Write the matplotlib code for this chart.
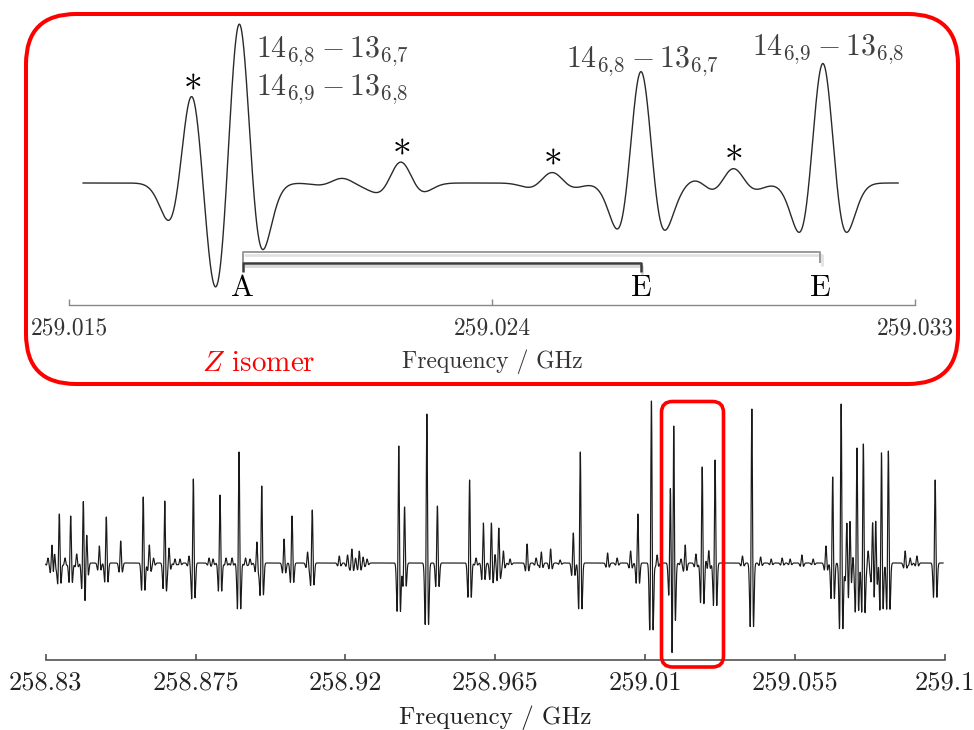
import numpy as np
import matplotlib
matplotlib.use('Agg')
import matplotlib.pyplot as plt
from matplotlib.patches import FancyBboxPatch
import matplotlib.transforms as mtransforms

plt.rcParams['mathtext.fontset'] = 'cm'
plt.rcParams['font.family'] = ['cmr10', 'DejaVu Serif']
plt.rcParams['axes.formatter.use_mathtext'] = True

# ---------------- data ----------------
# line centres (GHz) and peak intensities (arb. units)
line_freq = [
    258.8307, 258.83189, 258.83264, 258.83409, 258.8358, 258.83751, 258.83931, 258.8413, 258.84232, 258.8461,
    258.8482, 258.85253, 258.85929, 258.86112, 258.86238, 258.86575, 258.86704, 258.86884, 258.87034, 258.87305,
    258.87434, 258.87906, 258.88026, 258.88236, 258.88416, 258.88597, 258.88807, 258.89002, 258.89137, 258.89341,
    258.89489, 258.90159, 258.90399, 258.90865, 258.91006, 258.91817, 258.92066, 258.92195, 258.92307, 258.92418,
    258.92532, 258.92652, 258.93604, 258.93778, 258.94448, 258.94764, 258.95731, 258.95926, 258.96145, 258.96386,
    258.96497, 258.96608, 258.96746, 258.96947, 258.97458, 258.97729, 258.97885, 258.98164, 258.9845, 258.98846,
    258.99056, 258.99876, 259.00162, 259.00567, 259.00784, 259.01192, 259.01363,
    259.01762, 259.01862, 259.02081, 259.02206, 259.02528, 259.02717, 259.02836, 259.02913, 259.03104,
    259.03926, 259.04208, 259.04472, 259.04788, 259.05118, 259.05358, 259.0571, 259.06049, 259.06434, 259.06636,
    259.0689, 259.07062, 259.07155, 259.07236, 259.07365, 259.07557, 259.07701, 259.07837, 259.07927, 259.08017,
    259.08101, 259.08308, 259.08813, 259.08963, 259.09165, 259.09714]
line_int = [
    5, 20, 12, 49, 5, 47, 9, 62, 29, 17,
    46, 22, 66, 18, 5, 62, 15, 4, 4, 7,
    84, 5, 4, 68, 5, 5, 111, 5, 4, 21,
    77, 24, 47, 11, 53, 7, 8, 14, 5, 12,
    6, 4, 117, 56, 149, 57, 83, 5, 40, 40,
    9, 35, 12, 4, 19, 5, 11, 14, 3, 30,
    111, 10, 5, 12, 49, 162, 8,
    78, 139, 4, 18, 9, 96, 4, 13, 103,
    7, 154, 6, 4, 5, 4, 8, 4, 17, 86,
    159, 42, 45, 10, 115, 119, 12, 43, 45, 8,
    111, 112, 12, 5, 7, 83]
line_width_ghz = 0.00029

full_range = [258.8300, 259.0995]
zoom_range = [259.0153, 259.03264]

full_ticks = [258.83, 258.875, 258.92, 258.965, 259.01, 259.055, 259.1]
full_tick_labels = ['258.83', '258.875', '258.92', '258.965', '259.01', '259.055', '259.1']
zoom_ticks = [259.015, 259.024, 259.033]
zoom_tick_labels = ['259.015', '259.024', '259.033']

star_freq = [259.01762, 259.02206, 259.02528, 259.02913]
assign_freq = [259.01870, 259.02717, 259.03098]
assign_sym = ['A', 'E', 'E']
transitions = [r'$14_{6{,}8} - 13_{6{,}7}$', r'$14_{6{,}9} - 13_{6{,}8}$',
               r'$14_{6{,}8} - 13_{6{,}7}$', r'$14_{6{,}9} - 13_{6{,}8}$']

# ---------------- helpers ----------------
W, H = 974, 730


def spectrum(f):
    y = np.zeros_like(f)
    for c, a in zip(line_freq, line_int):
        u = (f - c) / line_width_ghz
        y += a * (1 - 0.95 * u * u) * np.exp(-0.5 * u * u)
    return y


def fx(px):
    return px / W


def fy(py):
    return 1 - py / H


fig = plt.figure(figsize=(W / 100, H / 100), dpi=100)

# ---------------- bottom (full) panel ----------------
axb_l, axb_r, axb_spine, axb_top = 45.7, 944.7, 660, 395
axb = fig.add_axes([fx(axb_l), fy(axb_spine), (axb_r - axb_l) / W, (axb_spine - axb_top) / H])
fb = np.linspace(full_range[0], full_range[1], 24000)
axb.plot(fb, spectrum(fb), color='#1a1a1a', lw=0.85, clip_on=False)
axb.set_xlim(full_ticks[0], full_ticks[-1])
base_b = 563
axb.set_ylim(-(axb_spine - base_b), (base_b - axb_top))
axb.set_yticks([])
for s in ['top', 'left', 'right']:
    axb.spines[s].set_visible(False)
axb.spines['bottom'].set_color('#444444')
axb.spines['bottom'].set_linewidth(1.1)
axb.set_xticks(full_ticks)
axb.set_xticklabels(full_tick_labels)
axb.tick_params(axis='x', direction='in', length=4, width=1.1, color='#444444',
                labelsize=19, labelcolor='#222222', pad=8)
axb.set_xlabel('Frequency / GHz', fontsize=18, color='#222222', labelpad=8)

# ---------------- top (zoom) panel ----------------
axt_l, axt_r, axt_spine, axt_top = 69, 915, 305, 12
scale_t = 1.16
axt = fig.add_axes([fx(axt_l), fy(axt_spine), (axt_r - axt_l) / W, (axt_spine - axt_top) / H])
ft = np.linspace(zoom_range[0], zoom_range[1], 4000)
axt.plot(ft, spectrum(ft), color='#2a2a2a', lw=1.0)
axt.set_xlim(zoom_ticks[0], zoom_ticks[-1])
base_t = 183
axt.set_ylim(-(axt_spine - base_t) / scale_t, (base_t - axt_top) / scale_t)
axt.set_yticks([])
for s in ['top', 'left', 'right']:
    axt.spines[s].set_visible(False)
axt.spines['bottom'].set_color('#888888')
axt.spines['bottom'].set_linewidth(1.0)
axt.set_xticks(zoom_ticks)
axt.set_xticklabels(zoom_tick_labels)
axt.tick_params(axis='x', direction='in', length=4, width=1.0, color='#888888',
                labelsize=17, labelcolor='#333333', pad=9)
axt.set_xlabel('Frequency / GHz', fontsize=17, color='#333333', labelpad=7)

# asterisks above the unassigned lines
star_h = spectrum(np.array(star_freq))
for f0, h0 in zip(star_freq, star_h):
    axt.text(f0, h0 + 15, r'$\ast$', ha='center', va='center', fontsize=27, color='black')

# assignment brackets (x in data, y in axes fraction)
trans = mtransforms.blended_transform_factory(axt.transData, axt.transAxes)


def yax(py):
    return (axt_spine - py) / (axt_spine - axt_top)


shadow = mtransforms.offset_copy(trans, fig=fig, x=1.5, y=-2.5, units='dots')
# soft shadows
axt.plot([assign_freq[0], assign_freq[2], assign_freq[2]],
         [yax(252), yax(252), yax(263)], transform=shadow,
         color='#e2e2e2', lw=2.0, clip_on=False, solid_capstyle='butt')
axt.plot([assign_freq[0], assign_freq[1], assign_freq[1]],
         [yax(263), yax(263), yax(272)], transform=shadow,
         color='#d6d6d6', lw=2.0, clip_on=False, solid_capstyle='butt')
# outer (A - second E), light
axt.plot([assign_freq[0], assign_freq[0], assign_freq[2], assign_freq[2]],
         [yax(263), yax(252), yax(252), yax(263)], transform=trans,
         color='#9a9a9a', lw=1.4, clip_on=False, solid_capstyle='butt')
# inner (A - first E), dark
axt.plot([assign_freq[0], assign_freq[0], assign_freq[1], assign_freq[1]],
         [yax(272), yax(263), yax(263), yax(272)], transform=trans,
         color='#3a3a3a', lw=1.8, clip_on=False, solid_capstyle='butt')
for f0, sym in zip(assign_freq, assign_sym):
    axt.text(f0, yax(288), sym, transform=trans, ha='center', va='center',
             fontsize=22, color='black')

# transition labels
label_pos = [(256, 57), (256, 95), (566, 67), (752, 55)]
for txt, (px, py) in zip(transitions, label_pos):
    fig.text(fx(px), fy(py), txt, ha='left', va='baseline', fontsize=21.5, color='#404040')

fig.text(fx(202), fy(364), r'$Z$ isomer', ha='left', va='center', fontsize=21, color='#ff0000')

# ---------------- red rounded boxes ----------------
box_top = FancyBboxPatch((0.26, (H - 384) / 100), 9.32, 3.70,
                         boxstyle='round,pad=0,rounding_size=0.5',
                         transform=fig.dpi_scale_trans, fill=False,
                         edgecolor='#ff0000', lw=2.9)
fig.add_artist(box_top)
box_bot = FancyBboxPatch((6.615, (H - 667) / 100), 0.62, 2.655,
                         boxstyle='round,pad=0,rounding_size=0.11',
                         transform=fig.dpi_scale_trans, fill=False,
                         edgecolor='#ff0000', lw=2.6)
fig.add_artist(box_bot)

fig.savefig('out.png', dpi=100)
